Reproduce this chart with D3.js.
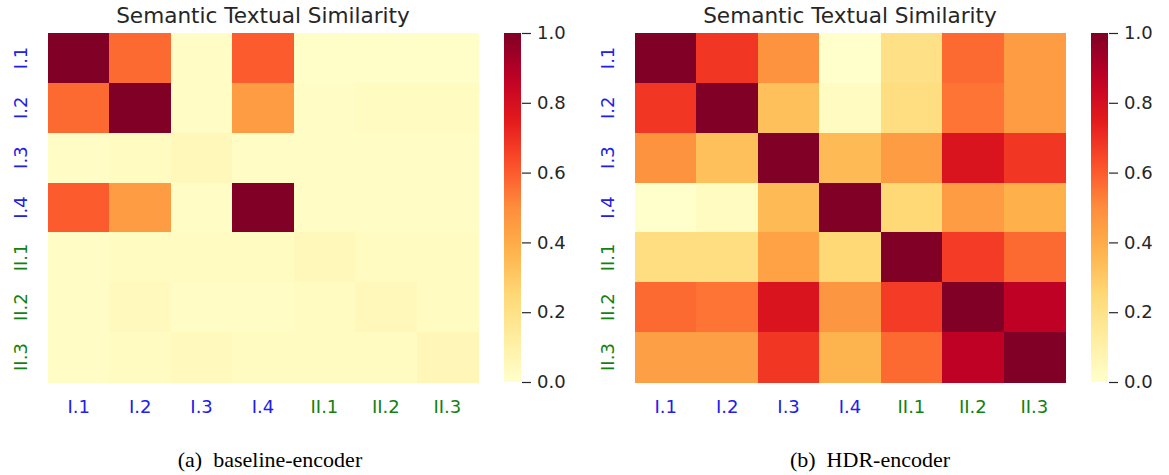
<!DOCTYPE html>
<meta charset="utf-8">
<style>
body { margin: 0; background: #fff; }
.title { font-family: 'DejaVu Sans'; font-size: 21.6px; fill: #262626; }
.tick text { font-family: 'DejaVu Sans'; font-size: 18px; fill: #262626; }
.caption { font-family: 'Liberation Serif'; font-size: 22px; fill: #000; }
</style>
<body>
<script src="https://d3js.org/d3.v7.min.js"></script>
<script>
    const labels = ["I.1", "I.2", "I.3", "I.4", "II.1", "II.2", "II.3"];
    const labelColors = ["#2020e8", "#2020e8", "#2020e8", "#2020e8", "#138013", "#138013", "#138013"];
    const cbTicks = [0, 0.2, 0.4, 0.6, 0.8, 1.0];

    // baseline-encoder similarity (rows x cols)
    const baseline = [
        [1.00, 0.57, 0.02, 0.60, 0.01, 0.01, 0.01],
        [0.57, 1.00, 0.02, 0.45, 0.02, 0.03, 0.03],
        [0.02, 0.03, 0.05, 0.02, 0.02, 0.02, 0.02],
        [0.60, 0.45, 0.02, 1.00, 0.02, 0.02, 0.02],
        [0.02, 0.03, 0.03, 0.03, 0.05, 0.03, 0.03],
        [0.02, 0.04, 0.02, 0.02, 0.03, 0.05, 0.03],
        [0.02, 0.03, 0.04, 0.03, 0.03, 0.03, 0.06]
    ];

    // HDR-encoder similarity
    const hdr = [
        [1.00, 0.68, 0.48, 0.00, 0.20, 0.57, 0.45],
        [0.68, 1.00, 0.33, 0.03, 0.22, 0.55, 0.45],
        [0.48, 0.33, 1.00, 0.35, 0.45, 0.78, 0.68],
        [0.00, 0.03, 0.35, 1.00, 0.25, 0.45, 0.38],
        [0.22, 0.22, 0.43, 0.25, 1.00, 0.67, 0.57],
        [0.57, 0.55, 0.78, 0.47, 0.67, 1.00, 0.87],
        [0.44, 0.44, 0.68, 0.37, 0.57, 0.87, 1.00]
    ];

    const panels = [
        { data: baseline, left: 48, caption: "(a)  baseline-encoder", capX: 270 },
        { data: hdr, left: 635, caption: "(b)  HDR-encoder", capX: 870 }
    ];

    const W = 1169, H = 475,
        topY = 33, hmW = 430, hmH = 349,
        cbGap = 26, cbW = 17;

    // matplotlib YlOrRd = linear segments through the 9 brewer colours
    const ylorrd = d3.schemeYlOrRd[9];
    const color = d3.scaleLinear()
        .domain(ylorrd.map((c, i) => i / 8))
        .range(ylorrd)
        .interpolate(d3.interpolateRgb);

    const svg = d3.select("body").append("svg")
        .attr("width", W)
        .attr("height", H);

    const defs = svg.append("defs");
    const grad = defs.append("linearGradient")
        .attr("id", "cbgrad")
        .attr("x1", 0).attr("y1", 1).attr("x2", 0).attr("y2", 0);
    d3.range(0, 1.0001, 0.05).forEach(t => {
        grad.append("stop").attr("offset", t).attr("stop-color", color(t));
    });

    panels.forEach(p => {
        const g = svg.append("g").attr("transform", `translate(${p.left},${topY})`);

        const x = d3.scaleBand().domain(labels).range([0, hmW]);
        const y = d3.scaleBand().domain(labels).range([0, hmH]);

        const cells = [];
        p.data.forEach((row, i) => row.forEach((v, j) => cells.push({ r: labels[i], c: labels[j], v })));

        g.append("g")
            .attr("shape-rendering", "crispEdges")
            .selectAll("rect")
            .data(cells)
            .join("rect")
                .attr("x", d => x(d.c))
                .attr("y", d => y(d.r))
                .attr("width", x.bandwidth() + 0.5)
                .attr("height", y.bandwidth() + 0.5)
                .attr("fill", d => color(d.v));

        // title
        g.append("text")
            .attr("class", "title")
            .attr("x", hmW / 2)
            .attr("y", -10)
            .attr("text-anchor", "middle")
            .text("Semantic Textual Similarity");

        // x labels
        g.append("g")
            .attr("class", "tick")
            .selectAll("text")
            .data(labels)
            .join("text")
                .attr("x", d => x(d) + x.bandwidth() / 2)
                .attr("y", hmH + 31)
                .attr("text-anchor", "middle")
                .style("fill", (d, i) => labelColors[i])
                .text(d => d);

        // y labels, rotated
        g.append("g")
            .attr("class", "tick")
            .selectAll("text")
            .data(labels)
            .join("text")
                .attr("transform", d => `translate(-21,${y(d) + y.bandwidth() / 2}) rotate(-90)`)
                .attr("text-anchor", "middle")
                .style("fill", (d, i) => labelColors[i])
                .text(d => d);

        // colorbar
        const cb = g.append("g").attr("transform", `translate(${hmW + cbGap},0)`);
        cb.append("rect")
            .attr("width", cbW)
            .attr("height", hmH)
            .attr("fill", "url(#cbgrad)");

        const cy = d3.scaleLinear().domain([0, 1]).range([hmH, 0]);
        const axis = d3.axisRight(cy)
            .tickValues(cbTicks)
            .tickFormat(d3.format(".1f"))
            .tickSize(9)
            .tickPadding(6);
        const ax = cb.append("g")
            .attr("transform", `translate(${cbW + 1},0)`)
            .call(axis);
        ax.select(".domain").remove();
        ax.selectAll(".tick line").attr("stroke", "#262626").attr("stroke-width", 1.2);
        ax.selectAll(".tick text").attr("fill", "#262626").attr("font-family", null).attr("font-size", null);

        // caption
        svg.append("text")
            .attr("class", "caption")
            .attr("x", p.capX)
            .attr("y", 467)
            .attr("text-anchor", "middle")
            .style("white-space", "pre")
            .text(p.caption);
    });
</script>
</body>
